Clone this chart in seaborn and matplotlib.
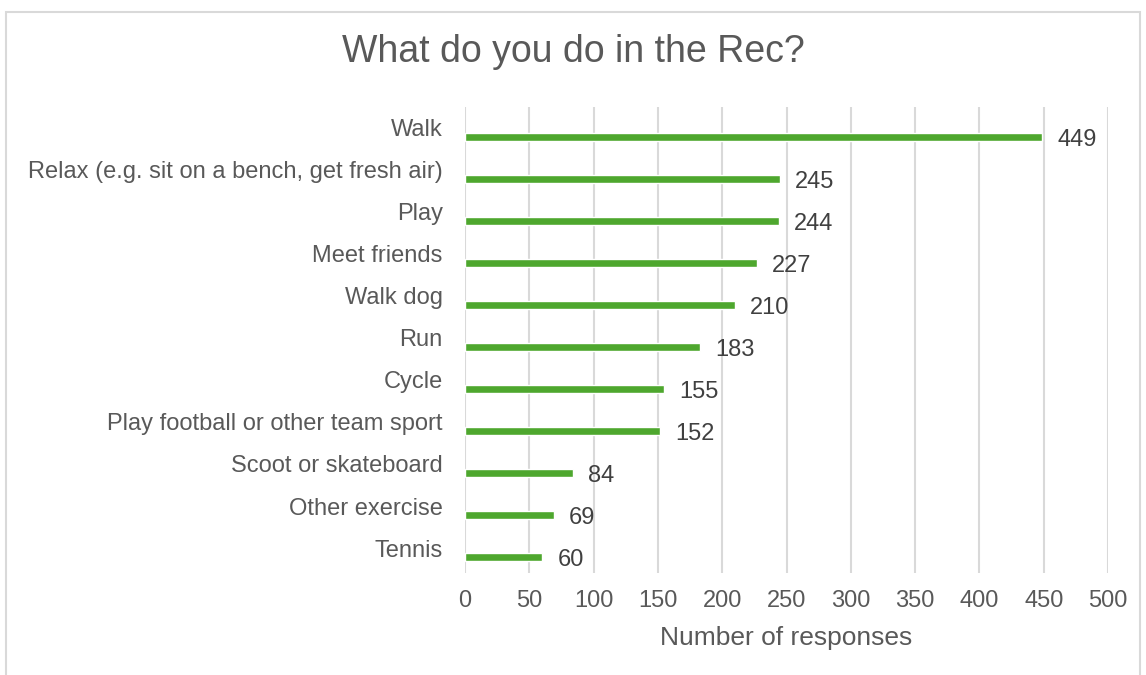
import matplotlib
matplotlib.use("Agg")
import matplotlib.pyplot as plt
import matplotlib.transforms as mtransforms
import seaborn as sns
import pandas as pd

activities = [
    "Walk",
    "Relax (e.g. sit on a bench, get fresh air)",
    "Play",
    "Meet friends",
    "Walk dog",
    "Run",
    "Cycle",
    "Play football or other team sport",
    "Scoot or skateboard",
    "Other exercise",
    "Tennis",
]
responses = [449, 245, 244, 227, 210, 183, 155, 152, 84, 69, 60]
x_ticks = [0, 50, 100, 150, 200, 250, 300, 350, 400, 450, 500]

df = pd.DataFrame({"activity": activities, "responses": responses})

sns.set_style("white")
plt.rcParams["font.family"] = ["Liberation Sans", "DejaVu Sans"]
text_col = "#595959"
bar_col = "#4EA72E"
fs = 17

fig = plt.figure(figsize=(11.46, 6.75), dpi=100)
ax = fig.add_axes([465 / 1146, 1 - 573 / 675, 643 / 1146, 466 / 675])

sns.barplot(data=df, x="responses", y="activity", color=bar_col,
            width=0.2, saturation=1, ax=ax, zorder=3)

ax.set_xlim(0, 500)
ax.set_ylim(10.38, -0.71)
ax.set_xticks(x_ticks)
ax.grid(axis="x", color="#D9D9D9", linewidth=1.5, zorder=0)
for s in ax.spines.values():
    s.set_visible(False)

ax.tick_params(axis="both", length=0, labelsize=fs, colors=text_col)
ax.tick_params(axis="x", pad=12)
ax.tick_params(axis="y", pad=16)
# category labels sit a little above their bars
shift = mtransforms.ScaledTranslation(0, 9 / 100, fig.dpi_scale_trans)
for lbl in ax.get_yticklabels():
    lbl.set_transform(lbl.get_transform() + shift)

ax.set_ylabel("")
ax.set_xlabel("Number of responses", fontsize=19, color=text_col, labelpad=10)

for i, v in enumerate(responses):
    ax.annotate(str(v), (v, i), xytext=(11, -2), textcoords="offset points",
                va="center", ha="left", fontsize=fs, color="#404040")

fig.suptitle("What do you do in the Rec?", fontsize=27, color=text_col,
             y=1 - 52 / 675, va="center")

border = plt.Rectangle((6 / 1146, -0.01), 1134 / 1146, 1 - 12 / 675 + 0.01,
                       transform=fig.transFigure, fill=False,
                       edgecolor="#D9D9D9", linewidth=1.5)
fig.patches.append(border)

fig.savefig("out.png", dpi=100)
